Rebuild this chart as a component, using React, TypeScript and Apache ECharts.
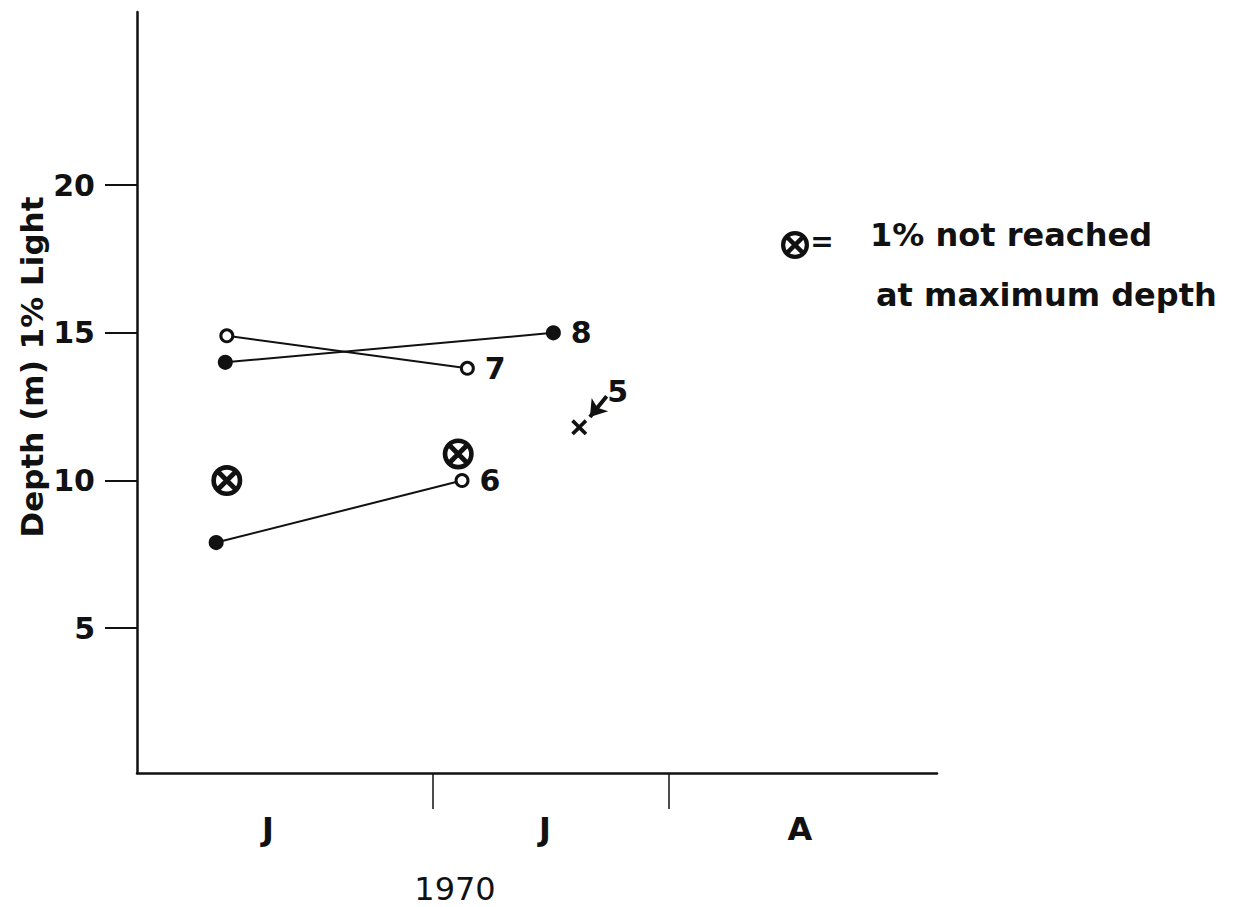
import React, { useEffect, useRef } from "react";
import * as echarts from "echarts";

// ---- data (x = days from 1 June 1970, y = depth of 1% light in m) ----
const monthTickDays = [30, 61];
const monthLabelDays = [8.3, 44.7, 78.2];
const monthLabels = ["J", "J", "A"];
const depthTicks = [5, 10, 15, 20];
const yearLabel = "1970";

const station7 = [
  [2.9, 14.9],
  [34.5, 13.8],
];
const station7Filled = [false, false];
const station8 = [
  [2.7, 14.0],
  [45.8, 15.0],
];
const station8Filled = [true, true];
const station6 = [
  [1.5, 7.9],
  [33.8, 10.0],
];
const station6Filled = [true, false];
const station5 = [[49.2, 11.8]];
const station5Arrow = [
  [50.6, 12.15],
  [52.8, 12.85],
];
const notReached = [
  [2.9, 10.0],
  [33.3, 10.9],
];

const FONT = '"DejaVu Sans", "Liberation Sans", sans-serif';
const INK = "#111";

const RING_X_PATH =
  "M50,0 A50,50 0 1,1 50,100 A50,50 0 1,1 50,0 Z " +
  "M50,15 A35,35 0 1,0 50,85 A35,35 0 1,0 50,15 Z " +
  "M27.4,16.1 L83.9,72.6 L72.6,83.9 L16.1,27.4 Z " +
  "M72.6,16.1 L83.9,27.4 L27.4,83.9 L16.1,72.6 Z";

const X_PATH =
  "M0,16 L16,0 L50,34 L84,0 L100,16 L66,50 L100,84 L84,100 L50,66 L16,100 L0,84 L34,50 Z";

let registered = false;
function registerShapes() {
  if (registered) return;
  echarts.graphic.registerShape(
    "notReachedMark",
    echarts.graphic.extendPath(RING_X_PATH, {}) as any
  );
  registered = true;
}

function lineSeries(name: string, pts: number[][], filled: boolean[], tag: string) {
  return {
    name,
    type: "line",
    data: pts.map((p, i) => ({
      value: p,
      itemStyle: {
        color: filled[i] ? INK : "#fff",
        borderColor: INK,
        borderWidth: 3,
        opacity: 1,
      },
      label:
        i === pts.length - 1
          ? {
              show: true,
              formatter: tag,
              position: "right",
              distance: 10,
              fontSize: 30,
              fontWeight: "bold",
              fontFamily: FONT,
              color: INK,
            }
          : { show: false },
    })),
    symbol: "circle",
    symbolSize: 12,
    showAllSymbol: true,
    lineStyle: { color: INK, width: 2 },
    z: 3,
  };
}

export default function App() {
  const ref = useRef<HTMLDivElement>(null);

  useEffect(() => {
    if (!ref.current) return;
    registerShapes();
    const chart = echarts.init(ref.current, null, { renderer: "svg" });
    const nearestMonth = (v: number) => {
      let best = 0;
      monthLabelDays.forEach((d, i) => {
        if (Math.abs(d - v) < Math.abs(monthLabelDays[best] - v)) best = i;
      });
      return monthLabels[best];
    };
    chart.setOption({
      animation: false,
      backgroundColor: "#fff",
      grid: {
        left: 137,
        right: 304,
        top: 12,
        bottom: 134,
        containLabel: false,
        outerBoundsMode: "none",
      },
      xAxis: {
        type: "value",
        min: -8.9,
        max: 96.2,
        axisLine: { show: true, onZero: false, lineStyle: { color: INK, width: 2.5 } },
        axisTick: {
          show: true,
          customValues: monthTickDays,
          length: 36,
          lineStyle: { color: INK, width: 1.5 },
        },
        axisLabel: {
          show: true,
          customValues: monthLabelDays,
          formatter: (v: number) => nearestMonth(v),
          margin: 40,
          fontSize: 32,
          fontWeight: "bold",
          fontFamily: FONT,
          color: INK,
        },
        splitLine: { show: false },
      },
      yAxis: {
        type: "value",
        min: 0.1,
        max: 25.86,
        axisLine: { show: true, onZero: false, lineStyle: { color: INK, width: 2.5 } },
        axisTick: {
          show: true,
          customValues: depthTicks,
          length: 32,
          lineStyle: { color: INK, width: 2 },
        },
        axisLabel: {
          show: true,
          customValues: depthTicks,
          margin: 42,
          fontSize: 30,
          fontWeight: "bold",
          fontFamily: FONT,
          color: INK,
        },
        splitLine: { show: false },
      },
      graphic: [
        {
          type: "text",
          x: 32,
          y: 367,
          rotation: Math.PI / 2,
          style: {
            text: "Depth (m) 1% Light",
            fontSize: 31,
            fontWeight: "bold",
            fontFamily: FONT,
            fill: INK,
            align: "center",
            verticalAlign: "middle",
          },
        },
        {
          type: "text",
          x: 455,
          y: 889,
          style: {
            text: yearLabel,
            fontSize: 32,
            fontFamily: FONT,
            fill: INK,
            align: "center",
            verticalAlign: "middle",
          },
        },
        {
          type: "notReachedMark",
          x: 781,
          y: 231,
          scaleX: 0.28,
          scaleY: 0.28,
          style: { fill: INK },
        },
        {
          type: "text",
          x: 822,
          y: 241,
          style: {
            text: "=",
            fontSize: 28,
            fontWeight: "bold",
            fontFamily: FONT,
            fill: INK,
            align: "center",
            verticalAlign: "middle",
          },
        },
        {
          type: "text",
          x: 870,
          y: 235,
          style: {
            text: "1% not reached",
            fontSize: 32,
            fontWeight: "bold",
            fontFamily: FONT,
            fill: INK,
            align: "left",
            verticalAlign: "middle",
          },
        },
        {
          type: "text",
          x: 876,
          y: 295,
          style: {
            text: "at maximum depth",
            fontSize: 32,
            fontWeight: "bold",
            fontFamily: FONT,
            fill: INK,
            align: "left",
            verticalAlign: "middle",
          },
        },
      ],
      series: [
        lineSeries("Station 7", station7, station7Filled, "7"),
        lineSeries("Station 8", station8, station8Filled, "8"),
        lineSeries("Station 6", station6, station6Filled, "6"),
        {
          name: "Station 5",
          type: "scatter",
          data: station5,
          symbol: "path://" + X_PATH,
          symbolSize: 16,
          itemStyle: { color: INK, opacity: 1 },
          label: {
            show: true,
            formatter: "5",
            position: "right",
            distance: 20,
            offset: [0, -36],
            fontSize: 30,
            fontWeight: "bold",
            fontFamily: FONT,
            color: INK,
          },
          markLine: {
            silent: true,
            animation: false,
            symbol: ["arrow", "none"],
            symbolSize: 16,
            label: { show: false },
            lineStyle: { color: INK, width: 4, type: "solid", opacity: 1 },
            data: [
              [
                { coord: station5Arrow[0] },
                { coord: station5Arrow[1] },
              ],
            ],
          },
          z: 4,
        },
        {
          name: "1% not reached at maximum depth",
          type: "scatter",
          data: notReached,
          symbol: "path://" + RING_X_PATH,
          symbolSize: 31,
          itemStyle: { color: INK, opacity: 1 },
          z: 4,
        },
      ],
    });
    return () => chart.dispose();
  }, []);

  return (
    <div
      ref={ref}
      style={{ position: "fixed", left: 0, top: 0, width: 1241, height: 907, background: "#fff" }}
    />
  );
}
